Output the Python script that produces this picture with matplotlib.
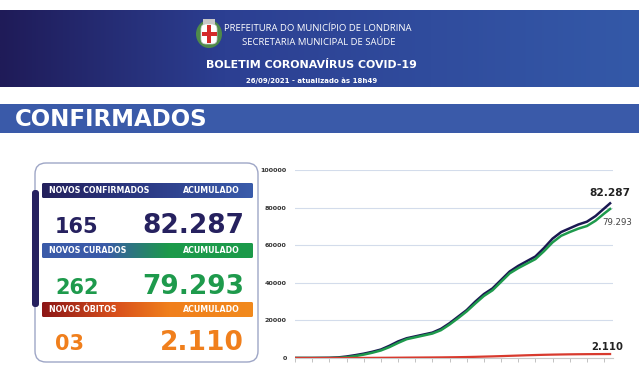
import numpy as np
import matplotlib
matplotlib.use('Agg')
import matplotlib.pyplot as plt
from matplotlib.colors import LinearSegmentedColormap
from matplotlib.patches import FancyBboxPatch, Rectangle, Ellipse

# posicao em meses desde o inicio da serie (marcas do eixo x)
meses = [0, 1, 2, 2.5, 3, 3.5, 4, 4.5, 5, 5.5, 6, 6.5, 7, 7.5, 8, 8.5, 9, 9.5,
         10, 10.5, 11, 11.5, 12, 12.5, 13, 13.5, 14, 14.5, 15, 15.5, 16, 16.5,
         17, 17.5, 18, 18.35]
confirmados = [0, 0, 100, 300, 800, 1500, 2300, 3300, 4500, 6500, 8800, 10500,
               11500, 12500, 13500, 15500, 18500, 22000, 25500, 30000, 34000,
               37000, 41500, 46000, 49000, 51500, 54000, 58500, 63500, 67000,
               69000, 71000, 72500, 75500, 79500, 82287]
curados = [0, 0, 0, 100, 400, 1000, 1800, 2800, 4000, 5800, 8000, 10000, 11000,
           12000, 13000, 14800, 17800, 21200, 24800, 29000, 33000, 36000, 40500,
           45000, 47800, 50200, 52600, 56800, 61500, 65000, 67000, 68800, 70200,
           73000, 76800, 79293]
obitos = [0, 0, 2, 5, 15, 30, 50, 75, 100, 130, 165, 200, 230, 260, 290, 330,
          380, 440, 520, 620, 740, 860, 1000, 1150, 1300, 1450, 1580, 1700, 1800,
          1880, 1950, 2000, 2040, 2070, 2095, 2110]

yticks = [0, 20000, 40000, 60000, 80000, 100000]

# quadro de numeros
rotulos = [('NOVOS CONFIRMADOS', 'ACUMULADO'), ('NOVOS CURADOS', 'ACUMULADO'),
           ('NOVOS ÓBITOS', 'ACUMULADO')]
novos = ['165', '262', '03']
acumulados = ['82.287', '79.293', '2.110']

NAVY = '#26215f'
GREEN = '#1e9a4c'
ORANGE = '#f07f1c'
RED = '#d83a2e'
HEAVY = 'DejaVu Sans'

fig = plt.figure(figsize=(6.39, 3.74), dpi=100)
bg = fig.add_axes([0, 0, 1, 1])
bg.set_xlim(0, 639)
bg.set_ylim(374, 0)
bg.axis('off')


def gradient(ax, x0, x1, y0, y1, stops, r=0):
    cmap = LinearSegmentedColormap.from_list('g', stops)
    img = ax.imshow(np.linspace(0, 1, 256).reshape(1, -1), extent=(x0, x1, y1, y0),
                    cmap=cmap, aspect='auto', zorder=2, interpolation='bilinear')
    if r:
        box = FancyBboxPatch((x0, y0), x1 - x0, y1 - y0, boxstyle='round,pad=0,rounding_size=%g' % r,
                             fc='none', ec='none', transform=ax.transData)
        ax.add_patch(box)
        img.set_clip_path(box)


# cabecalho
gradient(bg, 0, 639, 10, 87, [(0, '#1f1b58'), (0.35, '#2c3f92'), (1, '#3459a8')])
bg.add_patch(Ellipse((209, 34), 26, 28, fc='#4f8a4a', ec='none', zorder=3))
bg.add_patch(FancyBboxPatch((201, 24), 16, 20, boxstyle='round,pad=0,rounding_size=5',
                            fc='white', ec='#cccccc', lw=0.5, zorder=4))
bg.add_patch(Rectangle((201.5, 31.5), 15, 4, fc='#d42a2a', ec='none', zorder=5))
bg.add_patch(Rectangle((207, 25), 4, 18, fc='#d42a2a', ec='none', zorder=5))
bg.add_patch(Rectangle((203, 19), 12, 5, fc='#c8c8c8', ec='none', zorder=5))
bg.text(318, 28, 'PREFEITURA DO MUNICÍPIO DE LONDRINA', color='white', fontsize=6.8,
        family='Open Sans', ha='center', va='center', zorder=6)
bg.text(319, 42, 'SECRETARIA MUNICIPAL DE SAÚDE', color='white', fontsize=6.8,
        family='Open Sans', ha='center', va='center', zorder=6)
bg.text(311, 65, 'BOLETIM CORONAVÍRUS COVID-19', color='white', fontsize=7.9,
        family=HEAVY, fontweight='bold', ha='center', va='center', zorder=6)
bg.text(312, 81, '26/09/2021 - atualizado às 18h49', color='white', fontsize=5.0,
        family=HEAVY, fontweight='bold', ha='center', va='center', zorder=6)

# faixa CONFIRMADOS
bg.add_patch(Rectangle((0, 104), 639, 29, fc='#3a5aa9', ec='none', zorder=2))
bg.text(15, 119, 'CONFIRMADOS', color='white', fontsize=16.5, family=HEAVY,
        fontweight='bold', ha='left', va='center', zorder=6)

# quadro
bg.add_patch(FancyBboxPatch((35, 163), 223, 199, boxstyle='round,pad=0,rounding_size=11',
                            fc='white', ec='#9ea6c6', lw=1.0, zorder=1))
bg.add_patch(FancyBboxPatch((32, 190), 7, 117, boxstyle='round,pad=0,rounding_size=3',
                            fc=NAVY, ec='none', zorder=3))

barras = [(183, [(0, '#23205c'), (0.5, '#2c3b86'), (1, '#3a5cab')]),
          (243, [(0, '#3a5aa8'), (0.3, '#3a5aa8'), (0.6, '#1c9a4a'), (1, '#1c9a4a')]),
          (302, [(0, '#8c1616'), (0.35, '#d8501c'), (0.6, '#f07f1c'), (1, '#f28a1e')])]
cores = [NAVY, GREEN, ORANGE]
bases = [233, 294, 350]
for (y0, stops), (esq, dir_), novo, acum, cor, base in zip(barras, rotulos, novos,
                                                           acumulados, cores, bases):
    gradient(bg, 42, 253, y0, y0 + 15, stops, r=1.5)
    bg.text(49, y0 + 7.8, esq, color='white', fontsize=5.7, family=HEAVY,
            fontweight='bold', ha='left', va='center', zorder=6)
    bg.text(240, y0 + 7.8, dir_, color='white', fontsize=5.7, family=HEAVY,
            fontweight='bold', ha='right', va='center', zorder=6)
    bg.text(55, base, novo, color=cor, fontsize=15, family=HEAVY, fontweight='bold',
            ha='left', va='baseline', zorder=6)
    bg.text(244, base, acum, color=cor, fontsize=19, family=HEAVY, fontweight='bold',
            ha='right', va='baseline', zorder=6)

# grafico
ax = fig.add_axes([295 / 639, 1 - 358 / 374, 318 / 639, 188 / 374])
ax.set_xlim(0, 18.52)
ax.set_ylim(0, 100000)
ax.plot(meses, curados, color=GREEN, lw=1.8, zorder=3)
ax.plot(meses, confirmados, color='#1b1852', lw=1.8, zorder=2)
ax.plot(meses, obitos, color=RED, lw=1.6, zorder=4)
ax.set_yticks(yticks)
ax.set_yticklabels([str(v) for v in yticks], fontsize=4.6, color='#333333',
                   fontweight='bold')
ax.set_xticks(range(19))
ax.set_xticklabels([])
ax.tick_params(axis='y', length=0, pad=6)
ax.tick_params(axis='x', length=3, color='#b8b8b8', width=0.6)
ax.grid(axis='y', color='#d3dceb', lw=0.8)
ax.set_axisbelow(True)
for s in ['top', 'right', 'left']:
    ax.spines[s].set_visible(False)
ax.spines['bottom'].set_color('#c8c8c8')
ax.patch.set_alpha(0)

ax.annotate('82.287', (meses[-1], confirmados[-1]), xytext=(0, 4), textcoords='offset points',
            ha='center', va='bottom', fontsize=7.6, fontweight='bold', color='#222222')
ax.annotate('79.293', (meses[-1], curados[-1]), xytext=(5, -10), textcoords='offset points',
            ha='center', va='center', fontsize=6.2, color='#444444')
ax.annotate('2.110', (meses[-1], obitos[-1]), xytext=(-2, 5), textcoords='offset points',
            ha='center', va='center', fontsize=7.2, fontweight='bold', color='#222222')

fig.savefig('out.png', dpi=100)
